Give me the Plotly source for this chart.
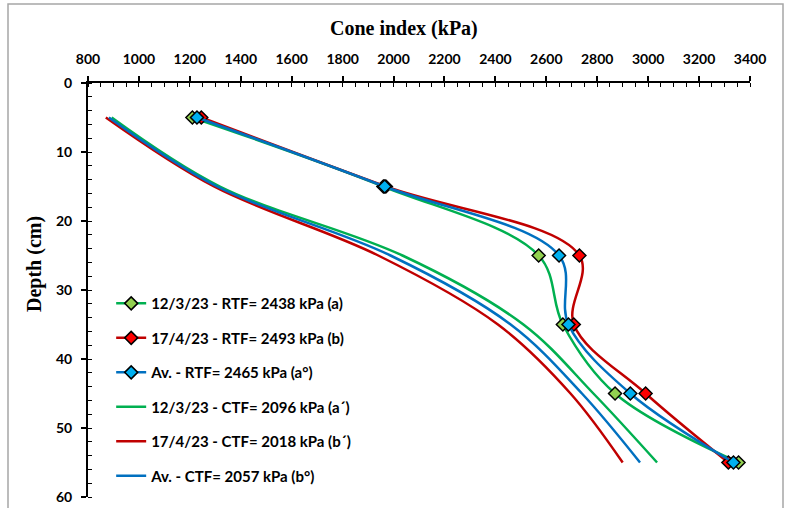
import plotly.graph_objects as go

# Penetration depths (cm)
depth = [5, 15, 25, 35, 45, 55]

# Cone index (kPa) - RTF
rtf_1203 = [1210, 1960, 2570, 2665, 2870, 3355]
rtf_1704 = [1245, 1970, 2730, 2708, 2990, 3315]
rtf_avg = [1228, 1965, 2650, 2687, 2930, 3335]

# Cone index (kPa) - CTF
ctf_1203 = [893, 1318, 2035, 2510, 2785, 3035]
ctf_1704 = [870, 1295, 1940, 2410, 2695, 2900]
ctf_avg = [882, 1307, 1988, 2460, 2740, 2968]

names = [
    "12/3/23 - RTF= 2438 kPa (a)",
    "17/4/23 - RTF= 2493 kPa (b)",
    "Av. - RTF= 2465 kPa (a°)",
    "12/3/23 - CTF= 2096 kPa (a´)",
    "17/4/23 - CTF= 2018 kPa (b´)",
    "Av. - CTF= 2057 kPa (b°)",
]

GREEN, RED, BLUE = "#00B050", "#C00000", "#0070C0"

fig = go.Figure()

rtf_series = [
    (rtf_1203, GREEN, "#92D050"),
    (rtf_1704, RED, "#FF0000"),
    (rtf_avg, BLUE, "#00B0F0"),
]
for i, (vals, lc, mc) in enumerate(rtf_series):
    fig.add_trace(go.Scatter(
        x=vals, y=depth, name=names[i], legendgroup=f"g{i}",
        mode="lines+markers",
        line=dict(color=lc, width=2.5, shape="spline", smoothing=1),
        marker=dict(symbol="diamond", size=10, color=mc,
                    line=dict(color="black", width=1.5)),
    ))

ctf_series = [(ctf_1203, GREEN), (ctf_1704, RED), (ctf_avg, BLUE)]
for j, (vals, lc) in enumerate(ctf_series):
    fig.add_trace(go.Scatter(
        x=vals, y=depth, name=names[3 + j], legendgroup=f"g{3 + j}",
        mode="lines",
        line=dict(color=lc, width=2.5, shape="spline", smoothing=1),
    ))

label_font = dict(family="Lato", size=14, color="black", weight="bold")
title_font = dict(family="Liberation Serif", size=20, color="black", weight="bold")

# plot area in pixels: x 88..750, y 83..497
PL, PR, PT, PB = 88, 750, 83, 497


def px_x(p):
    return (p - PL) / (PR - PL)


def px_y(p):
    return (PB - p) / (PB - PT)


fig.update_layout(
    width=787, height=508,
    margin=dict(l=PL, r=787 - PR, t=PT, b=508 - PB),
    paper_bgcolor="white", plot_bgcolor="white",
    showlegend=True,
    legend=dict(
        x=0.035, y=0.507, xanchor="left", yanchor="top",
        font=dict(family="Lato", size=15, color="black", weight="bold"),
        bgcolor="rgba(0,0,0,0)", tracegroupgap=12, itemwidth=30,
    ),
    xaxis=dict(
        side="top", range=[800, 3400], dtick=200, tick0=800,
        automargin=False,
        showgrid=False, zeroline=False,
        showline=True, linecolor="black", linewidth=2,
        ticks="outside", ticklen=5, tickwidth=1.5, tickcolor="black",
        ticklabelstandoff=6,
        tickfont=label_font,
        minor=dict(dtick=50, ticks="inside", ticklen=4, tickwidth=1.2,
                   tickcolor="black", showgrid=False),
    ),
    yaxis=dict(
        range=[60, 0], dtick=10, tick0=0,
        automargin=False,
        showgrid=False, zeroline=False,
        showline=True, linecolor="black", linewidth=2,
        ticks="outside", ticklen=5, tickwidth=1.5, tickcolor="black",
        ticklabelstandoff=6,
        tickfont=label_font,
        minor=dict(dtick=2, ticks="inside", ticklen=4, tickwidth=1.2,
                   tickcolor="black", showgrid=False),
    ),
    annotations=[
        dict(text="Cone index (kPa)", xref="paper", yref="paper",
             x=px_x(404), y=px_y(28), xanchor="center", yanchor="middle",
             showarrow=False, font=title_font),
        dict(text="Depth (cm)", xref="paper", yref="paper",
             x=px_x(34), y=px_y(264), xanchor="center", yanchor="middle",
             textangle=-90, showarrow=False, font=title_font),
    ],
    shapes=[dict(
        type="rect", xref="paper", yref="paper",
        x0=px_x(8), x1=px_x(783), y0=px_y(512), y1=px_y(4),
        line=dict(color="#A6A6A6", width=1.5), layer="below",
    )],
)

fig.write_html("out.html")
